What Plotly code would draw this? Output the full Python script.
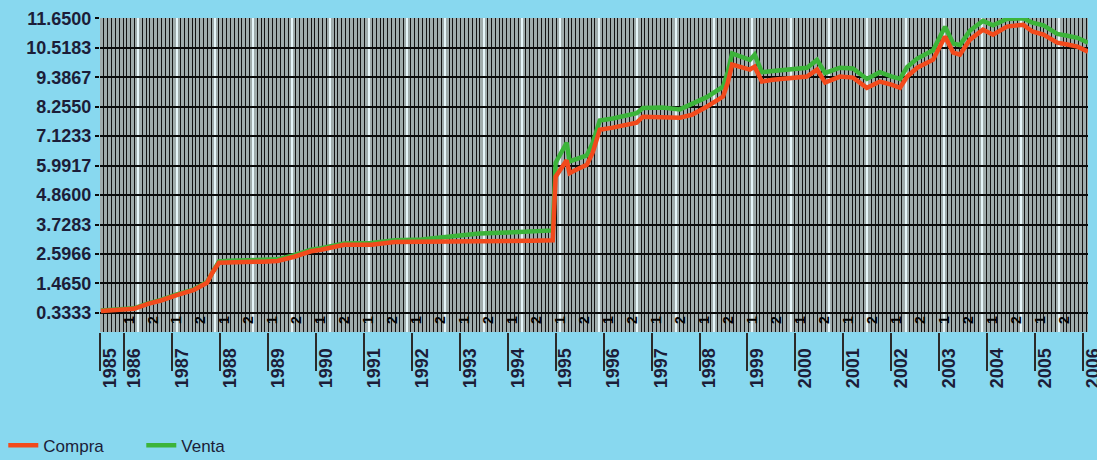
import plotly.graph_objects as go

# ---- data (decimal years, exchange rate) ----
years = [1985.52, 1985.9, 1986.21, 1986.5, 1986.77, 1987.1, 1987.46, 1987.73, 1987.84, 1987.98,
         1988.2, 1988.51, 1988.9, 1989.2, 1989.55, 1989.9, 1990.11, 1990.59, 1991.16, 1991.64,
         1992.2, 1992.8, 1993.41, 1994.0, 1994.5, 1994.94, 1995.0, 1995.23, 1995.29, 1995.45,
         1995.65, 1995.77, 1995.92, 1996.19, 1996.45, 1996.69, 1996.82, 1997.23, 1997.59, 1997.85,
         1998.15, 1998.49, 1998.59, 1998.68, 1998.84, 1999.05, 1999.15, 1999.30, 1999.53, 1999.88,
         2000.24, 2000.45, 2000.62, 2000.93, 2001.20, 2001.49, 2001.76, 2002.0, 2002.18, 2002.33,
         2002.54, 2002.87, 2003.02, 2003.12, 2003.29, 2003.43, 2003.64, 2003.91, 2004.12, 2004.41,
         2004.75, 2004.94, 2005.17, 2005.46, 2005.67, 2005.88, 2006.1]

compra = [0.41, 0.45, 0.49, 0.68, 0.81, 1.02, 1.22, 1.49, 1.87, 2.26,
          2.29, 2.29, 2.30, 2.33, 2.49, 2.70, 2.76, 2.95, 2.95, 3.06,
          3.07, 3.07, 3.06, 3.08, 3.10, 3.12, 5.56, 6.20, 5.70, 5.85,
          6.02, 6.48, 7.37, 7.45, 7.55, 7.64, 7.87, 7.87, 7.83, 7.95,
          8.25, 8.64, 9.18, 9.87, 9.79, 9.68, 9.79, 9.22, 9.29, 9.37,
          9.41, 9.68, 9.18, 9.41, 9.37, 8.98, 9.22, 9.10, 8.98, 9.41,
          9.75, 10.06, 10.56, 10.95, 10.33, 10.25, 10.83, 11.21, 11.02, 11.33,
          11.40, 11.14, 11.02, 10.71, 10.64, 10.56, 10.37]

venta = [0.43, 0.47, 0.51, 0.70, 0.83, 1.04, 1.24, 1.52, 1.90, 2.31,
         2.34, 2.35, 2.36, 2.39, 2.55, 2.76, 2.82, 3.00, 3.02, 3.12,
         3.15, 3.25, 3.38, 3.42, 3.45, 3.50, 6.10, 6.87, 6.15, 6.25,
         6.38, 6.85, 7.72, 7.80, 7.92, 8.00, 8.20, 8.22, 8.15, 8.35,
         8.62, 9.02, 9.60, 10.30, 10.20, 10.05, 10.25, 9.58, 9.62, 9.70,
         9.75, 10.05, 9.55, 9.75, 9.72, 9.32, 9.58, 9.42, 9.32, 9.78,
         10.10, 10.42, 10.92, 11.32, 10.68, 10.62, 11.18, 11.55, 11.38, 11.62,
         11.65, 11.48, 11.38, 11.05, 10.98, 10.90, 10.71]

year_ticks = [1985.5] + list(range(1986, 2007))
year_labels = ["1985"] + [str(y) for y in range(1986, 2007)]

half_ticks = [1985.5 + 0.5 * i for i in range(42)]
half_labels = ["2" if i % 2 == 0 else "1" for i in range(42)]

y_ticks = [0.3333, 1.4650, 2.5966, 3.7283, 4.8600, 5.9917, 7.1233, 8.2550, 9.3867, 10.5183, 11.6500]

x_range = [1985.5, 2006.1]
y_range = [-0.40, 11.66]

TXT = "#1c1d38"
FAM = "Liberation Sans, Arial, sans-serif"
BOLD = dict(family=FAM, weight="bold", color=TXT)

fig = go.Figure()
fig.add_trace(go.Scatter(x=years, y=venta, name="Venta", mode="lines",
                         line=dict(color="#3cb43a", width=4.5), legendrank=2))
fig.add_trace(go.Scatter(x=years, y=compra, name="Compra", mode="lines",
                         line=dict(color="#f24a1c", width=4.5), legendrank=1))
fig.add_trace(go.Scatter(x=[], y=[], xaxis="x2", showlegend=False, hoverinfo="skip"))
fig.add_trace(go.Scatter(x=[], y=[], xaxis="x3", showlegend=False, hoverinfo="skip"))

fig.update_layout(
    width=1097, height=460,
    margin=dict(l=100, r=9, t=18, b=128, autoexpand=False),
    paper_bgcolor="#88d8ef",
    plot_bgcolor="#a0acac",
    showlegend=True,
    legend=dict(orientation="h", xref="container", yref="paper",
                x=0.003, y=-0.305, xanchor="left", yanchor="top",
                font=dict(family=FAM, size=17, color=TXT),
                bgcolor="rgba(0,0,0,0)", entrywidth=93, entrywidthmode="pixels"),
    xaxis=dict(range=x_range, tickmode="linear", tick0=1985.5, dtick=0.8,
               showgrid=True, gridcolor="#e6f6fa", gridwidth=2,
               minor=dict(tickmode="linear", tick0=1985.5, dtick=0.08, showgrid=True,
                          gridcolor="#141414", gridwidth=1.2),
               showticklabels=False, ticks="", zeroline=False, showline=False,
               automargin=False),
    xaxis2=dict(overlaying="x", anchor="y", side="bottom", range=x_range,
                tickmode="array", tickvals=year_ticks, ticktext=year_labels,
                ticks="outside", ticklen=38, tickwidth=1.5, tickcolor="#2a2a2a",
                tickangle=-90, tickfont=dict(size=18, **BOLD),
                ticklabelstandoff=-30, ticklabelshift=10, ticklabeloverflow="allow",
                showgrid=False, zeroline=False, showline=False, automargin=False),
    xaxis3=dict(overlaying="x", anchor="y", side="bottom", range=x_range,
                tickmode="array", tickvals=half_ticks, ticktext=half_labels,
                ticks="", ticklabelposition="inside", tickangle=-90,
                tickfont=dict(size=14, family=FAM, weight="bold", color="#000000"),
                ticklabelshift=5,
                showgrid=False, zeroline=False, showline=False, automargin=False),
    yaxis=dict(range=y_range, tickmode="array", tickvals=y_ticks, tickformat=".4f",
               showgrid=True, gridcolor="#0a0a0a", gridwidth=2,
               ticks="outside", ticklen=4, tickwidth=2, tickcolor="#0a0a0a",
               tickfont=dict(size=18, **BOLD), zeroline=False, showline=False,
               automargin=False),
)

fig.write_html("out.html", config={"displayModeBar": False},
               post_script="document.body.style.margin='0px';")
